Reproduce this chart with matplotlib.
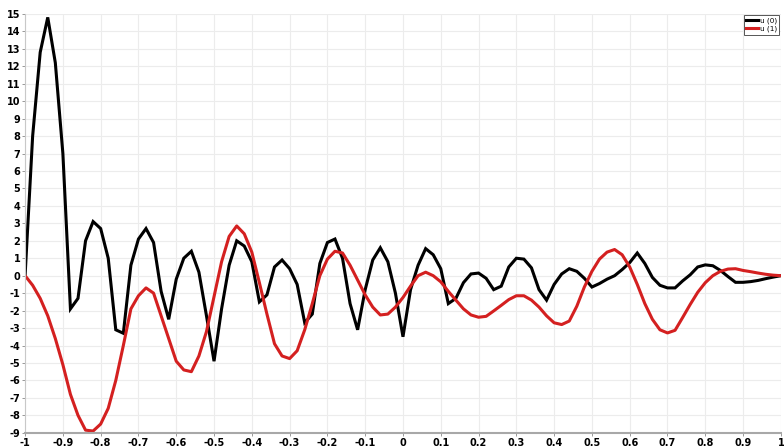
import numpy as np
import matplotlib.pyplot as plt

# nodal values of the two modes on a uniform 101-point mesh over [-1, 1]
x = np.linspace(-1, 1, 101)

u0 = [0, 8.0, 12.8, 14.8, 12.2, 7.0, -1.9, -1.3, 2.0, 3.1,
      2.7, 1.0, -3.1, -3.3, 0.6, 2.1, 2.7, 1.9, -0.9, -2.5,
      -0.2, 1.0, 1.4, 0.2, -2.3, -4.9, -1.9, 0.6, 2.0, 1.7,
      0.8, -1.5, -1.1, 0.5, 0.9, 0.4, -0.5, -2.7, -2.2, 0.7,
      1.9, 2.1, 1.0, -1.6, -3.1, -0.8, 0.9, 1.6, 0.8, -1.0,
      -3.5, -0.8, 0.6, 1.55, 1.2, 0.4, -1.6, -1.3, -0.4, 0.1,
      0.15, -0.15, -0.8, -0.6, 0.5, 1.0, 0.95, 0.45, -0.8, -1.4,
      -0.5, 0.1, 0.4, 0.25, -0.15, -0.65, -0.45, -0.2, 0.0, 0.35,
      0.75, 1.3, 0.7, -0.1, -0.55, -0.7, -0.7, -0.3, 0.05, 0.5,
      0.62, 0.57, 0.3, -0.05, -0.38, -0.38, -0.34, -0.27, -0.17, -0.08,
      0]

u1 = [0, -0.55, -1.3, -2.3, -3.6, -5.1, -6.8, -8.0, -8.85, -8.9,
      -8.5, -7.6, -6.0, -4.0, -1.9, -1.15, -0.7, -1.0, -2.3, -3.6,
      -4.9, -5.4, -5.5, -4.6, -3.2, -1.2, 0.8, 2.25, 2.85, 2.4,
      1.35, -0.4, -2.2, -3.9, -4.6, -4.75, -4.3, -3.1, -1.6, 0.0,
      0.95, 1.4, 1.3, 0.6, -0.25, -1.1, -1.8, -2.25, -2.2, -1.8,
      -1.25, -0.6, 0.0, 0.2, 0.0, -0.35, -0.9, -1.4, -1.9, -2.25,
      -2.38, -2.33, -2.02, -1.7, -1.37, -1.15, -1.15, -1.4, -1.8, -2.3,
      -2.7, -2.8, -2.6, -1.75, -0.65, 0.25, 0.95, 1.35, 1.5, 1.2,
      0.5, -0.5, -1.6, -2.5, -3.1, -3.28, -3.13, -2.4, -1.65, -0.95,
      -0.4, 0.0, 0.25, 0.38, 0.4, 0.3, 0.23, 0.15, 0.08, 0.03,
      0]

xticks = np.round(np.arange(-1, 1.01, 0.1), 1)
xtick_labels = ['-1', '-0.9', '-0.8', '-0.7', '-0.6', '-0.5', '-0.4', '-0.3',
                '-0.2', '-0.1', '0', '0.1', '0.2', '0.3', '0.4', '0.5', '0.6',
                '0.7', '0.8', '0.9', '1']
yticks = list(range(-9, 16))

fig = plt.figure(figsize=(7.84, 4.48), dpi=100)
ax = fig.add_axes([0.032, 0.034, 0.964, 0.935])

ax.plot(x, u0, color='black', lw=2.2, label='u (0)', solid_joinstyle='miter')
ax.plot(x, u1, color='#d42020', lw=2.2, label='u (1)')

ax.set_xlim(-1, 1)
ax.set_ylim(-9, 15)
ax.set_xticks(xticks)
ax.set_xticklabels(xtick_labels)
ax.set_yticks(yticks)
ax.set_yticklabels([str(v) for v in yticks])

ax.tick_params(axis='both', labelsize=7, length=2, width=0.6, color='#888888', pad=1.5)
for lab in ax.get_xticklabels() + ax.get_yticklabels():
    lab.set_fontweight('bold')

ax.grid(color='#ececec', lw=0.8)
ax.set_axisbelow(True)
for side in ['top', 'right']:
    ax.spines[side].set_visible(False)
ax.spines['left'].set_color('#c8c8c8')
ax.spines['bottom'].set_color('#a8a8a8')
ax.spines['bottom'].set_linewidth(1.5)

leg = ax.legend(loc='upper right', fontsize=5.2, handlelength=1.6, handletextpad=0.3,
                borderpad=0.3, labelspacing=0.25, fancybox=False, framealpha=1,
                borderaxespad=0.2)
leg.get_frame().set_edgecolor('#555555')
leg.get_frame().set_linewidth(0.7)

fig.savefig('out.png', dpi=100)
